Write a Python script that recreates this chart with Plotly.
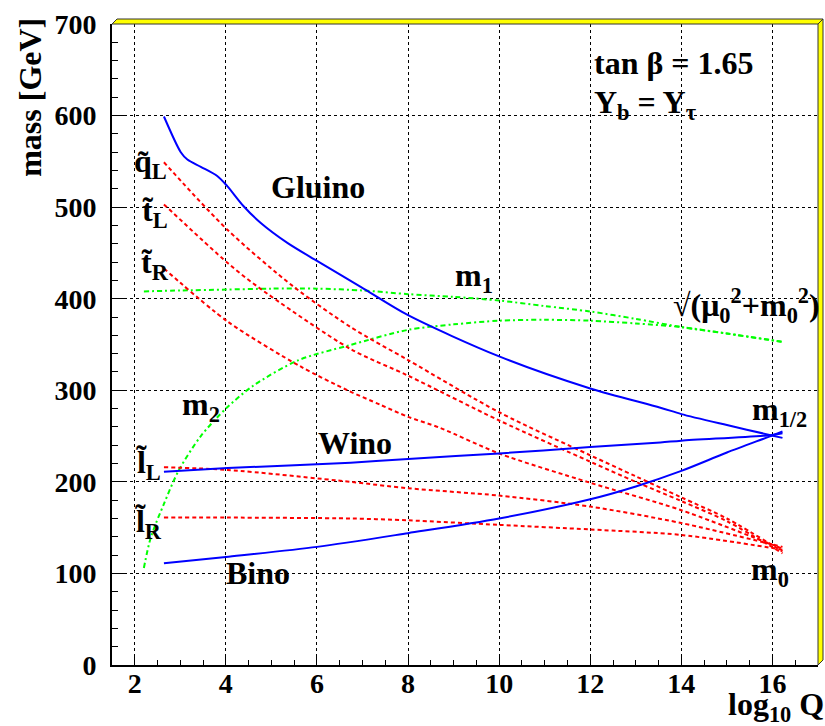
import plotly.graph_objects as go

# ---------------- data ----------------
gluino_x = [2.64, 3.01, 3.155, 3.45, 3.81, 4.03, 4.39, 4.76, 5.35, 6.01, 6.96, 8.0, 10.0, 12.0, 13.54, 14.0, 15.0, 15.96, 16.22]
gluino_y = [599, 560, 552, 544, 534, 523, 501, 483, 461, 441, 413, 382, 337, 302, 281, 274, 262, 251, 248]

wino_x = [2.64, 4.04, 6.74, 8.0, 10.0, 12.0, 13.54, 14.0, 15.96, 16.22]
wino_y = [211, 215, 221, 225, 231, 238, 243, 245, 251, 253]

bino_x = [2.64, 4.0, 6.0, 8.0, 10.0, 12.0, 13.0, 14.0, 15.0, 15.96, 16.22]
bino_y = [111, 118, 129, 144, 160, 181, 195, 212, 232, 250, 255]

m1_x = [2.2, 3, 4, 5, 6, 7, 8, 9, 10, 11, 12, 13, 14, 15, 16.2]
m1_y = [408, 409, 410, 411, 411, 409, 405, 402, 398, 392, 386, 378, 369, 362, 353]

m2_x = [2.2, 2.35, 2.64, 2.97, 3.45, 4.0, 4.6, 5.6, 6.7, 8.0, 9.0, 10.0, 11.0, 12.0, 13.0, 14.0, 15.0, 16.2]
m2_y = [106, 139, 176, 213, 250, 280, 305, 333, 349, 366, 372, 376, 377, 376, 373, 369, 362, 353]

qL_x = [2.64, 4.04, 5.49, 6.74, 8.0, 10.0, 12.0, 13.0, 14.0, 15.0, 16.22]
qL_y = [549, 475, 413, 369, 333, 276, 229, 206, 183, 160, 124]

tL_x = [2.64, 4.04, 4.7, 6.74, 8.0, 10.0, 12.0, 13.0, 14.0, 15.0, 16.22]
tL_y = [503, 439, 413, 345, 316, 267, 222, 200, 179, 157, 122]

tR_x = [2.64, 4.04, 5.64, 6.67, 7.4, 8.0, 8.7, 10.0, 12.0, 14.0, 16.22]
tR_y = [433, 375, 326, 300, 284, 271, 259, 231, 199, 169, 127]

lL_x = [2.64, 4.04, 6.74, 8.0, 10.0, 12.0, 14.0, 16.22]
lL_y = [216, 213, 200, 193, 185, 173, 155, 129]

lR_x = [2.64, 4.04, 6.74, 8.0, 10.0, 12.0, 14.0, 16.22]
lR_y = [161, 161, 160, 158, 153, 148, 142, 126]

x_ticks = [2, 4, 6, 8, 10, 12, 14, 16]
y_ticks = [0, 100, 200, 300, 400, 500, 600, 700]

# ---------------- styling ----------------
FONT = "Liberation Serif"
BLUE = "#0000ff"
RED = "#ff0000"
GREEN = "#00ff00"
RED_DASH = "4px,3px"
GREEN_DASH = "5px,3px,2px,3px"

fig = go.Figure()

def add(x, y, color, dash, width=2):
    fig.add_trace(go.Scatter(x=x, y=y, mode="lines",
                             line=dict(color=color, width=width, dash=dash,
                                       shape="spline", smoothing=0.8),
                             hoverinfo="skip", showlegend=False))

add(m1_x, m1_y, GREEN, GREEN_DASH)
add(m2_x, m2_y, GREEN, GREEN_DASH)
for xs, ys in [(qL_x, qL_y), (tL_x, tL_y), (tR_x, tR_y), (lL_x, lL_y), (lR_x, lR_y)]:
    add(xs, ys, RED, RED_DASH)
add(gluino_x, gluino_y, BLUE, "solid")
add(wino_x, wino_y, BLUE, "solid")
add(bino_x, bino_y, BLUE, "solid")

# ---------------- labels ----------------
def label(text, x, y, size=32, xanchor="center", yanchor="middle", xref="x", yref="y", angle=0):
    fig.add_annotation(text=text, x=x, y=y, xref=xref, yref=yref, showarrow=False,
                       xanchor=xanchor, yanchor=yanchor, textangle=angle,
                       font=dict(family=FONT, size=size, color="black", weight="bold"))

label("Gluino", 6.02, 522)
label("Wino", 6.83, 242)
label("Bino", 4.7, 101)
label("m<sub>1</sub>", 9.45, 423)
label("m<sub>2</sub>", 3.45, 282)
label("√(μ<sub>0</sub><sup>2</sup>+m<sub>0</sub><sup>2</sup>)", 15.42, 393)
label("m<sub>1/2</sub>", 16.15, 277)
label("m<sub>0</sub>", 15.95, 102)
label("tan β = 1.65", 12.04, 657, xanchor="left")
label("Y<sub>b</sub> = Y<sub>τ</sub>", 12.04, 612, xanchor="left")
label("q\u0303<sub>L</sub>", 2.35, 548)
label("t\u0303<sub>L</sub>", 2.44, 494)
label("t\u0303<sub>R</sub>", 2.44, 437)
label("l\u0303<sub>L</sub>", 2.31, 219)
label("l\u0303<sub>R</sub>", 2.31, 155)
label("mass [GeV]", -0.116, 0.885, xref="paper", yref="paper", angle=-90)
label("log<sub>10</sub> Q", 0.94, -0.064, xref="paper", yref="paper")

# ---------------- ROOT style frame bevel (top and right) ----------------
W, H = 706.0, 641.0
dx, dy = 5 / W, 5 / H
fig.add_shape(type="path", xref="paper", yref="paper",
              path=f"M 0 1 L {dx} {1+dy} L {1+dx} {1+dy} L 1 1 Z",
              fillcolor="#ffff00", line=dict(width=0), layer="above")
fig.add_shape(type="path", xref="paper", yref="paper",
              path=f"M 1 1 L {1+dx} {1+dy} L {1+dx} {dy} L 1 0 Z",
              fillcolor="#ffff00", line=dict(width=0), layer="above")
# thin dark outline of the bevel
fig.add_shape(type="path", xref="paper", yref="paper",
              path=f"M 0 1 L {dx} {1+dy} L {1+dx} {1+dy} L {1+dx} {dy} L 1 0",
              line=dict(color="#333333", width=1), layer="above")
fig.add_shape(type="path", xref="paper", yref="paper",
              path=f"M 0 1 L 1 1 L 1 0 M 1 1 L {1+dx} {1+dy}",
              line=dict(color="#333333", width=1), layer="above")

axis_common = dict(showline=True, linecolor="black", linewidth=2,
                   showgrid=True, gridcolor="black", griddash="dot", gridwidth=1,
                   ticks="inside", tickcolor="black", tickwidth=1,
                   tickfont=dict(family=FONT, size=28, color="black", weight="bold"),
                   zeroline=False, mirror=False)

fig.update_layout(
    width=825, height=726,
    margin=dict(l=112, r=7, t=24, b=61),
    paper_bgcolor="white", plot_bgcolor="white",
    xaxis=dict(range=[1.5, 17], tickvals=x_ticks, ticktext=[str(v) for v in x_ticks],
               ticklen=10, ticklabelstandoff=-8,
               minor=dict(ticks="inside", ticklen=5, dtick=0.5, tick0=0,
                          tickcolor="black", showgrid=False),
               **axis_common),
    yaxis=dict(range=[0, 700], tickvals=y_ticks, ticktext=[str(v) for v in y_ticks],
               ticklen=12, ticklabelstandoff=8,
               minor=dict(ticks="inside", ticklen=6, dtick=20, tick0=0,
                          tickcolor="black", showgrid=False),
               **axis_common),
)

fig.write_html("out.html", config={"displayModeBar": False},
               post_script="document.body.style.margin='0';document.body.style.overflow='hidden';")
